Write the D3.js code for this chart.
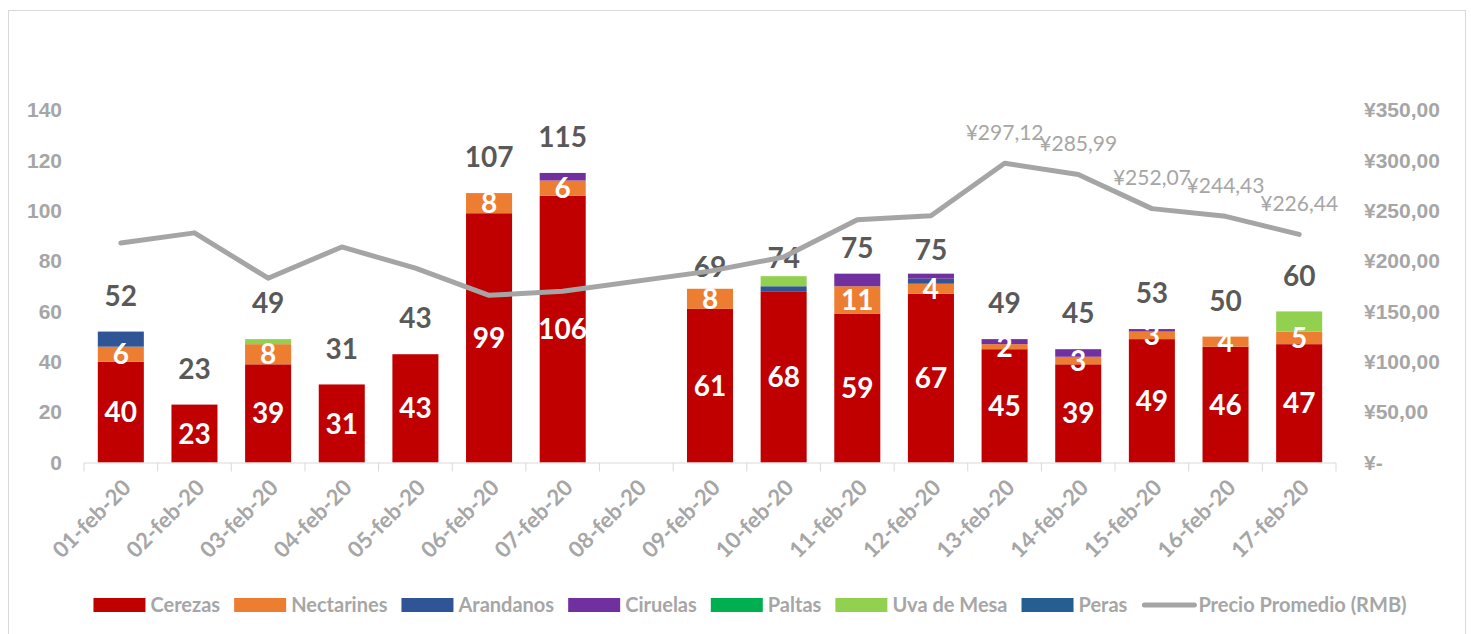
<!DOCTYPE html>
<html>
<head>
<meta charset="utf-8">
<script src="https://cdn.jsdelivr.net/npm/d3@7"></script>
<style>
  html, body { margin: 0; padding: 0; background: #fff; }
  svg { display: block; font-family: Lato, "Open Sans", sans-serif; }
</style>
</head>
<body>
<svg id="chart" width="1471" height="634"></svg>
<script>
// categorias (eje X)
const fechas = ["01-feb-20", "02-feb-20", "03-feb-20", "04-feb-20", "05-feb-20", "06-feb-20",
  "07-feb-20", "08-feb-20", "09-feb-20", "10-feb-20", "11-feb-20", "12-feb-20", "13-feb-20",
  "14-feb-20", "15-feb-20", "16-feb-20", "17-feb-20"];

// series apiladas
const cerezas    = [40, 23, 39, 31, 43, 99, 106, 0, 61, 68, 59, 67, 45, 39, 49, 46, 47];
const nectarines = [6, 0, 8, 0, 0, 8, 6, 0, 8, 0, 11, 4, 2, 3, 3, 4, 5];
const arandanos  = [6, 0, 0, 0, 0, 0, 0, 0, 0, 2, 0, 2, 0, 0, 0, 0, 0];
const ciruelas   = [0, 0, 0, 0, 0, 0, 3, 0, 0, 0, 5, 2, 2, 3, 1, 0, 0];
const paltas     = [0, 0, 0, 0, 0, 0, 0, 0, 0, 0, 0, 0, 0, 0, 0, 0, 0];
const uvaDeMesa  = [0, 0, 2, 0, 0, 0, 0, 0, 0, 4, 0, 0, 0, 0, 0, 0, 8];
const peras      = [0, 0, 0, 0, 0, 0, 0, 0, 0, 0, 0, 0, 0, 0, 0, 0, 0];

// precio promedio (eje derecho), 08-feb sin dato
const precio = [218, 228, 183, 214, 193, 166, 170, null, 190, 204, 241, 245,
  297.12, 285.99, 252.07, 244.43, 226.44];
const precioEtiquetas = [false, false, false, false, false, false, false, false, false,
  false, false, false, true, true, true, true, true];

const yTicks = [0, 20, 40, 60, 80, 100, 120, 140];
const y2Ticks = [0, 50, 100, 150, 200, 250, 300, 350];

const series = [
  { name: "Cerezas", values: cerezas, color: "#C00000", label: true },
  { name: "Nectarines", values: nectarines, color: "#ED7D31", label: true },
  { name: "Arandanos", values: arandanos, color: "#2F5597", label: false },
  { name: "Ciruelas", values: ciruelas, color: "#7030A0", label: false },
  { name: "Paltas", values: paltas, color: "#00B050", label: false },
  { name: "Uva de Mesa", values: uvaDeMesa, color: "#92D050", label: false },
  { name: "Peras", values: peras, color: "#255E91", label: false }
];
const lineColor = "#A5A5A5";
const axisText = "#A6A6A6";

const svg = d3.select("#chart");
const plot = { left: 84, right: 1336, top: 110, bottom: 462.5 };

svg.append("rect").attr("x", 8.5).attr("y", 10.5).attr("width", 1457).attr("height", 640)
  .attr("fill", "#fff").attr("stroke", "#D9D9D9");

const x = d3.scaleBand().domain(fechas).range([plot.left, plot.right])
  .paddingInner(0.375).paddingOuter(0.1875);
const y = d3.scaleLinear().domain([0, 140]).range([plot.bottom, plot.top]);
const y2 = d3.scaleLinear().domain([0, 350]).range([plot.bottom, plot.top]);

const locale = d3.formatLocale({ decimal: ",", thousands: ".", grouping: [3], currency: ["¥", ""] });
const fmt2 = locale.format(",.2f");

// ejes Y
const gy = svg.append("g").attr("transform", `translate(${plot.left - 22},0)`)
  .call(d3.axisLeft(y).tickValues(yTicks).tickSize(0).tickPadding(0));
gy.select(".domain").remove();
gy.selectAll("text").attr("fill", axisText).style("font-size", "21px").style("font-weight", "bold");

const gy2 = svg.append("g").attr("transform", `translate(1364,0)`)
  .call(d3.axisRight(y2).tickValues(y2Ticks).tickSize(0).tickPadding(0)
    .tickFormat(d => d === 0 ? "¥-" : "¥" + fmt2(d)));
gy2.select(".domain").remove();
gy2.selectAll("text").attr("fill", axisText).style("font-size", "21px").style("font-weight", "bold");

// barras apiladas
const rows = fechas.map((f, i) => {
  const r = { fecha: f };
  series.forEach(s => r[s.name] = s.values[i]);
  return r;
});
const stack = d3.stack().keys(series.map(s => s.name))(rows);
const bw = x.bandwidth();

stack.forEach((layer, k) => {
  svg.append("g").selectAll("rect").data(layer).join("rect")
    .attr("x", d => x(d.data.fecha))
    .attr("y", d => y(d[1]))
    .attr("width", bw)
    .attr("height", d => y(d[0]) - y(d[1]))
    .attr("fill", series[k].color);
});

// etiquetas internas
stack.forEach((layer, k) => {
  if (!series[k].label) return;
  svg.append("g").selectAll("text").data(layer.filter(d => d[1] - d[0] > 0)).join("text")
    .attr("x", d => x(d.data.fecha) + bw / 2)
    .attr("y", d => (y(d[0]) + y(d[1])) / 2)
    .attr("dy", "0.36em")
    .attr("text-anchor", "middle")
    .attr("fill", "#fff")
    .style("font-size", "28px").style("font-weight", "bold")
    .text(d => d[1] - d[0]);
});

// totales (algunas etiquetas quedan mas cerca de la barra, como en el original)
const totalLift = { "09-feb-20": 22, "10-feb-20": 18, "11-feb-20": 26, "12-feb-20": 24 };
const totales = fechas.map((f, i) => ({ fecha: f, total: d3.sum(series, s => s.values[i]) }));
svg.append("g").selectAll("text").data(totales.filter(d => d.total > 0)).join("text")
  .attr("x", d => x(d.fecha) + bw / 2)
  .attr("y", d => y(d.total) - (totalLift[d.fecha] || 36))
  .attr("dy", "0.36em")
  .attr("text-anchor", "middle")
  .attr("fill", "#595959")
  .style("font-size", "28px").style("font-weight", "bold")
  .text(d => d.total);

// eje X
const step = x.step();
svg.append("line").attr("x1", plot.left).attr("x2", plot.right)
  .attr("y1", plot.bottom + 0.5).attr("y2", plot.bottom + 0.5).attr("stroke", "#D9D9D9");
svg.append("g").selectAll("line").data(d3.range(fechas.length + 1)).join("line")
  .attr("x1", i => plot.left + i * step).attr("x2", i => plot.left + i * step)
  .attr("y1", plot.bottom + 0.5).attr("y2", plot.bottom + 9)
  .attr("stroke", "#D9D9D9");
svg.append("g").selectAll("text").data(fechas).join("text")
  .attr("transform", d => `translate(${x(d) + bw / 2 + 6},${plot.bottom + 21}) rotate(-45)`)
  .attr("text-anchor", "end")
  .attr("dy", "0.35em")
  .attr("fill", axisText)
  .style("font-size", "22px").style("font-weight", "bold")
  .text(d => d);

// linea de precio
const pts = fechas.map((f, i) => ({ fecha: f, v: precio[i], lab: precioEtiquetas[i] }))
  .filter(d => d.v != null);
const line = d3.line().x(d => x(d.fecha) + bw / 2).y(d => y2(d.v));
svg.append("path").datum(pts).attr("d", line)
  .attr("fill", "none").attr("stroke", lineColor).attr("stroke-width", 5)
  .attr("stroke-linejoin", "round").attr("stroke-linecap", "round");

svg.append("g").selectAll("text").data(pts.filter(d => d.lab)).join("text")
  .attr("x", d => x(d.fecha) + bw / 2)
  .attr("y", d => y2(d.v) - 31)
  .attr("dy", "0.35em")
  .attr("text-anchor", "middle")
  .attr("fill", axisText)
  .style("font-size", "21px")
  .text(d => "¥" + fmt2(d.v));

// leyenda
const legendItems = series.map(s => ({ name: s.name, color: s.color, type: "rect" }))
  .concat([{ name: "Precio Promedio (RMB)", color: lineColor, type: "line" }]);
const legend = svg.append("g");
let lx = 0;
legendItems.forEach(it => {
  const g = legend.append("g").attr("transform", `translate(${lx},0)`);
  if (it.type === "rect") {
    g.append("rect").attr("x", 0).attr("y", -7).attr("width", 52).attr("height", 14).attr("fill", it.color);
  } else {
    g.append("line").attr("x1", 3).attr("x2", 53).attr("y1", 0).attr("y2", 0)
      .attr("stroke", it.color).attr("stroke-width", 5).attr("stroke-linecap", "round");
  }
  const t = g.append("text").attr("x", 57).attr("dy", "0.35em")
    .attr("fill", axisText).style("font-size", "20px").style("font-weight", "bold").text(it.name);
  lx += 57 + t.node().getComputedTextLength() + 14;
});
lx -= 14;
legend.attr("transform", `translate(${750 - lx / 2},605)`);
</script>
</body>
</html>
